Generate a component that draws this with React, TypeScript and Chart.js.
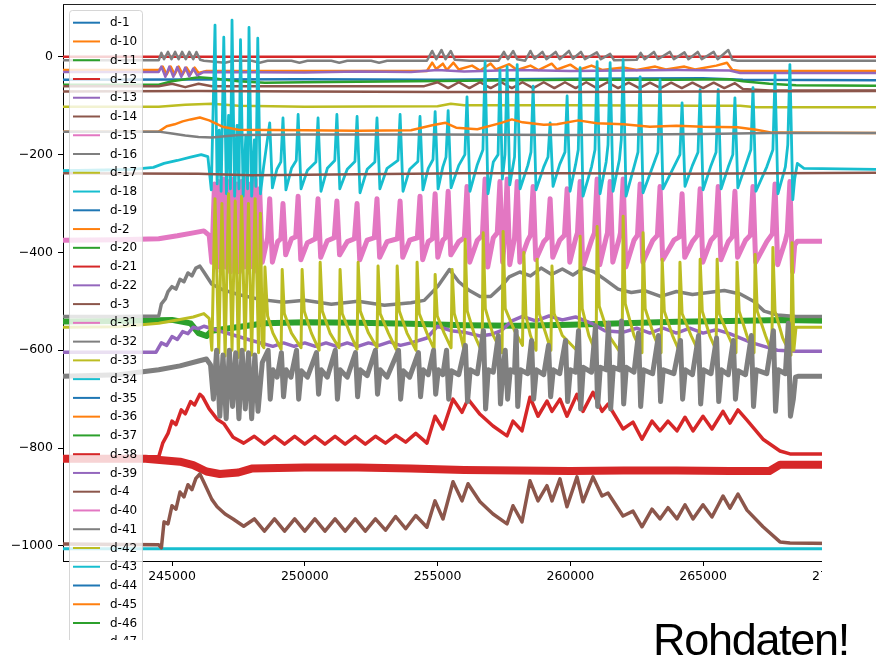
import { useEffect, useRef } from "react";
import { Chart, registerables } from "chart.js";

Chart.register(...registerables);

type P = [number, number];

const seriesNames = [
  "d-1", "d-10", "d-11", "d-12", "d-13", "d-14", "d-15", "d-16", "d-17", "d-18",
  "d-19", "d-2", "d-20", "d-21", "d-22", "d-3", "d-31", "d-32", "d-33", "d-34",
  "d-35", "d-36", "d-37", "d-38", "d-39", "d-4", "d-40", "d-41", "d-42", "d-43",
  "d-44", "d-45", "d-46", "d-47", "d-48", "d-49", "d-5", "d-50",
];

const palette = [
  "#1f77b4", "#ff7f0e", "#2ca02c", "#d62728", "#9467bd",
  "#8c564b", "#e377c2", "#7f7f7f", "#bcbd22", "#17becf",
];

const xTicks = [245000, 250000, 255000, 260000, 265000, 270000];
const yTicks = [-1000, -800, -600, -400, -200, 0];
const xMin = 240895;
const xMax = 271513;
const yMin = -1031;
const yMax = 108;

const d12: P[] = [[240895, 0], [271513, 0]];

const d16: P[] = [
  [240895, -7], [244500, -7], [244600, 8], [244700, -5], [244850, 10], [244980, -5], [245120, 10], [245250, -5],
  [245380, 10], [245520, -5], [245650, 10], [245800, -5], [245920, 10], [246060, -6], [246200, -8], [247000, -12],
  [247300, -8], [248000, -8], [248300, -12], [248600, -8], [249500, -8], [249800, -12], [250100, -8], [251000, -8],
  [251300, -12], [251600, -8], [252500, -8], [252800, -12], [253100, -8], [254600, -8], [254800, 12], [254950, -5],
  [255150, 14], [255300, -5], [255500, 12], [255650, -6], [256200, -8], [257300, -8], [257500, 10], [257650, -5],
  [257850, 12], [258000, -5], [258300, -8], [258500, 12], [258650, -4], [258950, 10], [259100, -5], [259450, 10],
  [259600, -5], [259950, 12], [260100, -4], [260400, 10], [260550, -5], [261000, 9], [261150, -5], [261500, 6],
  [261650, -7], [262500, -6], [262650, 8], [262800, -5], [263150, 10], [263300, -5], [263750, 10], [263900, -5],
  [264300, 9], [264450, -5], [264800, 10], [264950, -5], [265400, 10], [265550, -5], [265950, 14], [266100, -6],
  [266300, -8], [271513, -8],
];

const d10: P[] = [
  [240895, -27], [244500, -27], [244650, -20], [244800, -36], [244950, -20], [245100, -36], [245250, -20],
  [245400, -36], [245550, -22], [245700, -35], [245850, -22], [246000, -33], [246300, -29], [254600, -29],
  [254800, -12], [254950, -25], [255200, -14], [255350, -27], [255600, -12], [255800, -26], [256300, -18],
  [256600, -28], [257000, -14], [257200, -26], [257700, -15], [258000, -27], [258500, -18], [258800, -27],
  [259300, -14], [259500, -26], [260000, -16], [260300, -27], [260800, -18], [261200, -27], [262000, -22],
  [262500, -27], [263200, -20], [263600, -26], [264300, -20], [264700, -26], [265500, -18], [265900, -12],
  [266100, -27], [266400, -29], [271513, -29],
];

const d13: P[] = [
  [240895, -31], [244500, -31], [244600, -20], [244750, -41], [244900, -20], [245050, -41], [245200, -21],
  [245350, -41], [245500, -22], [245650, -40], [245800, -24], [245950, -38], [246200, -31], [250000, -32],
  [252000, -30], [254000, -31], [255000, -27], [256000, -30], [258000, -27], [260000, -29], [262000, -28],
  [264000, -27], [266000, -28], [266400, -33], [271513, -33],
];

const d1: P[] = [
  [240895, -47], [250000, -46], [255000, -47], [260000, -45], [265000, -44], [266500, -47], [271513, -48],
];

const d11: P[] = [
  [240895, -57], [244500, -57], [245000, -50], [245500, -46], [246000, -42], [246500, -44], [247500, -50],
  [248500, -53], [250000, -52], [252000, -51], [254000, -50], [256000, -49], [258000, -48], [260000, -47],
  [262000, -47], [264000, -47], [266000, -46], [266500, -50], [267500, -55], [268500, -58], [271513, -59],
];

const d14: P[] = [
  [240895, -60], [244500, -60], [245000, -55], [245500, -62], [246000, -55], [246500, -60], [248000, -60],
  [250000, -60], [252000, -60], [254500, -60], [255000, -52], [255400, -64], [255800, -52], [256200, -64],
  [256600, -52], [257000, -64], [257400, -52], [257800, -64], [258200, -52], [258600, -64], [259000, -52],
  [259400, -64], [259800, -52], [260200, -64], [260600, -52], [261000, -64], [261400, -52], [261800, -64],
  [262200, -53], [262600, -64], [263000, -53], [263400, -64], [263800, -53], [264200, -64], [264600, -53],
  [265000, -64], [265400, -53], [265800, -64], [266200, -54], [266500, -66], [267500, -69], [271513, -69],
];

const d49: P[] = [
  [240895, -71], [246000, -70], [250000, -71], [255000, -72], [260000, -72], [265000, -71], [271513, -70],
];

const d17: P[] = [
  [240895, -102], [244500, -102], [245500, -98], [246500, -96], [247500, -100], [250000, -102], [255000, -101],
  [255500, -96], [256000, -99], [260000, -99], [265000, -100], [266400, -100], [267000, -103], [271513, -103],
];

const d2: P[] = [
  [240895, -153], [244500, -153], [244800, -142], [245100, -138], [245400, -132], [245700, -128], [246050, -124],
  [246400, -130], [246900, -143], [247500, -149], [250000, -150], [252000, -151], [254000, -150], [254800, -140],
  [255300, -135], [255700, -145], [256500, -148], [257400, -135], [257800, -128], [258200, -134], [259000, -139],
  [259500, -138], [260300, -130], [261000, -136], [262000, -138], [263000, -143], [264000, -141], [265000, -143],
  [266300, -144], [267000, -149], [267600, -155], [271513, -156],
];

const d50: P[] = [
  [240895, -153], [244500, -153], [245000, -157], [245500, -161], [246000, -164], [246500, -165], [247500, -160],
  [250000, -159], [255000, -159], [260000, -160], [265000, -158], [267500, -156], [271513, -156],
];

const d3: P[] = [
  [240895, -238], [246000, -239], [248000, -242], [252000, -240], [256000, -238], [260000, -238], [264000, -239],
  [268000, -238], [271513, -237],
];

const d18: P[] = [
  [240895, -233], [242000, -232], [243500, -230], [244300, -226], [244700, -218], [245200, -212], [245700, -205],
  [246100, -200], [246350, -204], [246480, -272],
  [246620, 65], [246700, -260], [246780, -150], [246850, -275], [246950, 40], [247050, -280], [247130, -120],
  [247200, -270], [247260, 75], [247360, -285], [247450, -140], [247520, -270], [247580, 35], [247680, -285],
  [247780, -160], [247850, -270], [247900, 60], [248000, -285], [248100, -170], [248160, -265], [248230, 38],
  [248330, -280],
  [248450, -225], [248680, -135], [248780, -268], [248950, -230],
  [249100, -215], [249180, -125], [249290, -272], [249500, -228],
  [249680, -212], [249750, -118], [249860, -270], [250100, -232],
  [250420, -215], [250500, -125], [250610, -275], [250850, -228],
  [251130, -212], [251210, -118], [251320, -270], [251600, -230],
  [251890, -214], [251970, -122], [252080, -278], [252350, -230],
  [252640, -215], [252720, -125], [252830, -270], [253100, -228],
  [253510, -212], [253590, -118], [253700, -275], [253950, -230],
  [254260, -214], [254340, -122], [254450, -272], [254650, -228],
  [254830, -210], [254910, -112], [255020, -270], [255200, -225],
  [255320, -205], [255400, -110], [255510, -268], [255800, -222],
  [256030, -200], [256110, -82], [256220, -275], [256500, -220],
  [256710, -190], [256790, -10], [256900, -280], [257100, -215],
  [257280, -200], [257350, -27], [257440, -250], [257540, -200],
  [257620, -20], [257720, -262], [257900, -205],
  [258000, -16], [258110, -270], [258400, -222],
  [258520, -195], [258600, -60], [258710, -272], [259000, -225],
  [259160, -205], [259240, -135], [259350, -265], [259600, -220],
  [259800, -195], [259880, -80], [259990, -275], [260200, -220],
  [260300, -190], [260370, -22], [260480, -285], [260800, -225],
  [260930, -190], [261010, -10], [261120, -280], [261350, -215],
  [261420, -180], [261500, -12], [261610, -275], [261850, -210],
  [261920, -170], [261990, -6], [262100, -285], [262400, -225],
  [262550, -195], [262630, -41], [262740, -278], [263100, -225],
  [263300, -195], [263380, -47], [263490, -270], [263900, -225],
  [264130, -200], [264210, -94], [264320, -265], [264600, -222],
  [264810, -195], [264890, -67], [265000, -272], [265300, -222],
  [265490, -195], [265570, -67], [265680, -270], [265950, -225],
  [266120, -200], [266200, -84], [266310, -268], [266600, -222],
  [266800, -190], [266880, -63], [266990, -275], [267400, -225],
  [267630, -190], [267710, -37], [267820, -280], [268100, -225],
  [268190, -180], [268270, -16], [268380, -292], [268450, -250], [268550, -218], [268800, -228], [271513, -230],
];

const d15: P[] = [
  [240895, -375], [243000, -374], [244500, -372], [245200, -366], [245800, -360], [246200, -356], [246400, -365],
  [246500, -420],
  [246600, -260], [246680, -430], [246760, -255], [246850, -440], [246940, -250], [247030, -430], [247110, -255],
  [247200, -440], [247280, -250], [247370, -430], [247450, -260], [247540, -440], [247620, -255], [247710, -430],
  [247790, -250], [247880, -440], [247960, -260], [248050, -430], [248130, -250], [248220, -440], [248300, -270],
  [248400, -420],
  [248600, -370], [248680, -290], [248780, -420], [248980, -378],
  [249100, -372], [249180, -300], [249280, -405], [249500, -372],
  [249660, -368], [249750, -285], [249850, -415], [250100, -380],
  [250400, -372], [250500, -290], [250600, -410], [250850, -376],
  [251110, -370], [251210, -295], [251310, -405], [251600, -378],
  [251870, -372], [251970, -300], [252070, -415], [252350, -375],
  [252620, -370], [252720, -290], [252820, -410], [253100, -378],
  [253490, -372], [253590, -295], [253690, -410], [253950, -375],
  [254240, -370], [254340, -285], [254440, -415], [254650, -378],
  [254810, -372], [254910, -280], [255010, -410], [255200, -375],
  [255300, -370], [255400, -275], [255500, -405], [255800, -378],
  [256010, -370], [256110, -265], [256210, -420], [256500, -375],
  [256690, -365], [256790, -250], [256890, -430], [257100, -370],
  [257250, -360], [257350, -255], [257450, -420], [257540, -360],
  [257620, -250], [257720, -425], [257900, -370],
  [258000, -255], [258100, -420], [258400, -375],
  [258500, -365], [258600, -265], [258700, -415], [259000, -378],
  [259140, -370], [259240, -290], [259340, -410], [259600, -375],
  [259780, -365], [259880, -270], [259980, -420], [260200, -372],
  [260270, -360], [260370, -255], [260470, -430], [260800, -375],
  [260910, -360], [261010, -250], [261110, -425], [261350, -370],
  [261400, -360], [261500, -255], [261600, -420], [261850, -370],
  [261890, -360], [261990, -250], [262090, -430], [262400, -375],
  [262530, -365], [262630, -260], [262730, -420], [263100, -376],
  [263280, -365], [263380, -265], [263480, -415], [263900, -375],
  [264110, -368], [264210, -280], [264310, -410], [264600, -378],
  [264790, -365], [264890, -270], [264990, -420], [265300, -375],
  [265470, -365], [265570, -265], [265670, -415], [265950, -378],
  [266100, -368], [266200, -275], [266300, -410], [266600, -375],
  [266780, -365], [266880, -265], [266980, -420], [267400, -378],
  [267610, -362], [267710, -260], [267810, -425], [268100, -376],
  [268170, -360], [268270, -255], [268370, -440], [268450, -385], [268550, -377], [271513, -377],
];

const d33: P[] = [
  [240895, -553], [243000, -552], [244500, -545], [245200, -538], [245800, -532], [246200, -525], [246400, -535],
  [246500, -600],
  [246620, -290], [246760, -605], [246880, -300], [247000, -612], [247130, -280], [247260, -600], [247380, -295],
  [247500, -615], [247620, -285], [247750, -600], [247880, -300], [248000, -610], [248130, -290], [248260, -605],
  [248330, -320], [248400, -590],
  [248460, -595], [248500, -430], [248600, -530], [248800, -565],
  [249110, -598], [249150, -435], [249230, -525], [249500, -565],
  [249860, -595], [249900, -435], [249980, -520], [250250, -565],
  [250540, -600], [250580, -420], [250660, -520], [250950, -565],
  [251290, -595], [251330, -435], [251410, -525], [251700, -565],
  [251970, -598], [252010, -420], [252090, -520], [252400, -565],
  [252720, -595], [252760, -428], [252840, -525], [253150, -565],
  [253440, -598], [253480, -428], [253560, -520], [253850, -565],
  [254190, -600], [254230, -420], [254310, -525], [254600, -565],
  [254870, -598], [254910, -445], [254990, -530], [255250, -565],
  [255510, -595], [255550, -435], [255630, -525], [255850, -565],
  [256000, -600], [256040, -373], [256120, -520], [256400, -570],
  [256680, -605], [256720, -360], [256800, -515], [257100, -570],
  [257430, -605], [257470, -357], [257550, -515], [257900, -560],
  [258200, -590], [258250, -400], [258330, -530], [258500, -570],
  [258710, -600], [258750, -414], [258830, -525], [259100, -570],
  [259270, -600], [259310, -428], [259390, -525], [259700, -570],
  [260330, -605], [260370, -367], [260450, -515], [260700, -570],
  [260970, -605], [261010, -347], [261090, -510], [261450, -570],
  [261950, -610], [261990, -326], [262070, -505], [262400, -570],
  [262700, -605], [262740, -360], [262820, -515], [263150, -570],
  [263420, -605], [263460, -414], [263540, -520], [263850, -570],
  [264090, -600], [264130, -420], [264210, -525], [264550, -570],
  [264850, -605], [264890, -414], [264970, -520], [265250, -570],
  [265490, -600], [265530, -414], [265610, -525], [265950, -570],
  [266240, -605], [266280, -420], [266360, -520], [266650, -570],
  [266920, -605], [266960, -404], [267040, -520], [267350, -570],
  [267590, -605], [267630, -390], [267710, -520], [268000, -575],
  [268310, -610], [268350, -380], [268420, -600], [268500, -553], [271513, -553],
];

const d41: P[] = [
  [240895, -653], [243000, -650], [244500, -640], [245300, -632], [246000, -622], [246300, -618], [246450, -630],
  [246560, -700], [246680, -600], [246800, -735], [246920, -610], [247040, -740], [247160, -600], [247280, -715],
  [247400, -605], [247520, -740], [247640, -600], [247760, -720], [247880, -605], [248000, -740], [248120, -610],
  [248240, -725], [248400, -625],
  [248620, -600], [248700, -700], [248800, -640], [248960, -655],
  [249120, -605], [249200, -695], [249300, -640], [249480, -655],
  [249690, -600], [249770, -700], [249870, -642], [250100, -655],
  [250440, -605], [250520, -690], [250620, -640], [250850, -655],
  [251150, -600], [251230, -700], [251330, -640], [251600, -655],
  [251910, -605], [251990, -695], [252090, -640], [252350, -652],
  [252660, -600], [252740, -690], [252840, -640], [253100, -655],
  [253530, -600], [253610, -700], [253710, -642], [253950, -655],
  [254280, -605], [254360, -695], [254460, -640], [254650, -650],
  [254850, -600], [254930, -690], [255030, -640], [255200, -650],
  [255340, -600], [255420, -700], [255520, -642], [255800, -650],
  [256050, -590], [256130, -705], [256230, -640], [256500, -648],
  [256730, -560], [256810, -720], [256910, -640], [257100, -645],
  [257290, -570], [257370, -710], [257470, -635], [257550, -600],
  [257640, -700], [257740, -640], [257900, -645],
  [257960, -560], [258020, -715], [258120, -640], [258400, -648],
  [258540, -580], [258620, -700], [258720, -640], [259000, -650],
  [259180, -590], [259260, -695], [259360, -640], [259600, -648],
  [259820, -580], [259900, -705], [260000, -640], [260200, -645],
  [260310, -560], [260390, -720], [260490, -635], [260800, -645],
  [260950, -550], [261030, -715], [261130, -635], [261350, -640],
  [261440, -545], [261520, -720], [261620, -635], [261850, -640],
  [261930, -540], [262010, -710], [262110, -635], [262400, -645],
  [262570, -565], [262650, -715], [262750, -640], [263100, -648],
  [263320, -570], [263400, -705], [263500, -640], [263900, -648],
  [264150, -580], [264230, -700], [264330, -640], [264600, -650],
  [264830, -570], [264910, -710], [265010, -640], [265300, -648],
  [265510, -575], [265590, -705], [265690, -640], [265950, -650],
  [266140, -580], [266220, -700], [266320, -642], [266600, -650],
  [266820, -570], [266900, -715], [267000, -640], [267400, -648],
  [267650, -560], [267730, -725], [267830, -640], [268100, -648],
  [268210, -545], [268290, -735], [268400, -700], [268480, -655], [268600, -653], [271513, -653],
];

const d32: P[] = [
  [240895, -531], [243000, -531], [244500, -530], [244600, -505], [244750, -495], [244850, -480], [245000, -470],
  [245150, -475], [245300, -455], [245450, -460], [245600, -442], [245750, -448], [245900, -432], [246050, -428],
  [246200, -440], [246500, -465], [246900, -476], [247500, -486], [248300, -496], [249200, -502], [250000, -498],
  [251000, -506], [252000, -500], [253000, -508], [254000, -503], [254500, -498], [255000, -470], [255450, -435],
  [255800, -460], [256200, -478], [256600, -490], [257000, -490], [257400, -470], [257700, -450], [258100, -440],
  [258500, -448], [258900, -432], [259300, -445], [259700, -434], [260100, -446], [260500, -432], [260900, -440],
  [261300, -455], [261800, -475], [262300, -482], [262800, -478], [263400, -490], [264000, -480], [264600, -486],
  [265200, -482], [265800, -478], [266400, -485], [266900, -500], [267300, -520], [267800, -528], [268500, -531],
  [271513, -531],
];

const d20: P[] = [
  [240895, -541], [243000, -540], [245000, -538], [245700, -545], [246000, -565], [246300, -571], [246500, -560],
  [248500, -545], [250000, -543], [252000, -544], [254000, -546], [256000, -549], [258000, -550], [260000, -548],
  [262000, -545], [264000, -542], [266000, -540], [268000, -538], [271513, -541],
];

const d22: P[] = [
  [240895, -604], [244400, -604], [244600, -585], [244800, -590], [245000, -572], [245200, -578], [245400, -562],
  [245600, -566], [245800, -553], [246000, -556], [246200, -551], [248000, -580], [248800, -592], [249200, -585],
  [249600, -592], [250000, -585], [250400, -592], [250800, -585], [251200, -592], [251600, -585], [252000, -592],
  [252400, -585], [252800, -590], [253200, -583], [253600, -590], [254000, -585], [254600, -575], [255000, -551],
  [255500, -560], [256000, -563], [256600, -571], [257000, -568], [257400, -560], [257800, -540], [258200, -531],
  [258700, -540], [259200, -530], [259700, -538], [260200, -532], [260800, -545], [261300, -560], [262000, -563],
  [262500, -555], [263000, -565], [263500, -555], [264000, -565], [264500, -555], [265000, -565], [265500, -558],
  [266000, -566], [266800, -584], [267300, -592], [267800, -600], [268500, -602], [271513, -602],
];

const d21: P[] = [
  [240895, -818], [244500, -818], [244650, -790], [244850, -770], [245000, -745], [245150, -752], [245350, -722],
  [245500, -730], [245700, -705], [245850, -712], [246050, -690], [246150, -695], [246400, -720], [246700, -741],
  [246950, -750], [247300, -778], [247700, -790], [248100, -776], [248480, -792], [248860, -776], [249240, -792],
  [249620, -776], [250000, -792], [250380, -776], [250760, -792], [251140, -776], [251520, -792], [251900, -776],
  [252280, -792], [252660, -776], [253040, -790], [253420, -774], [253800, -788], [254180, -770], [254600, -790],
  [254905, -735], [255206, -761], [255583, -700], [255922, -727], [256148, -700], [256600, -731], [257090, -755],
  [257617, -775], [257842, -745], [258181, -765], [258482, -696], [258784, -735], [259122, -704], [259311, -725],
  [259612, -700], [259875, -735], [260252, -690], [260478, -725], [260855, -686], [261194, -725], [261420, -710],
  [261985, -761], [262361, -747], [262700, -782], [263077, -745], [263378, -765], [263679, -745], [264018, -765],
  [264320, -737], [264621, -765], [264997, -735], [265336, -761], [265750, -725], [266014, -749], [266315, -722],
  [266654, -743], [267257, -782], [267897, -806], [268274, -812], [271513, -812],
];

const d38: P[] = [
  [240895, -822], [244000, -822], [245300, -828], [245800, -835], [246300, -848], [246800, -853], [247500, -850],
  [248000, -842], [250000, -840], [252000, -840], [254000, -842], [256000, -845], [258000, -846], [260000, -847],
  [262000, -846], [264000, -846], [266000, -847], [267500, -847], [267900, -834], [271513, -834],
];

const d4: P[] = [
  [240895, -996], [244500, -998], [244600, -1004], [244700, -951], [244850, -955], [245000, -918], [245150, -925],
  [245300, -890], [245450, -900], [245600, -875], [245750, -885], [245900, -862], [246050, -853], [246200, -870],
  [246500, -905], [246700, -920], [247000, -935], [247300, -945], [247700, -960], [248100, -945], [248480, -970],
  [248860, -945], [249240, -970], [249620, -945], [250000, -970], [250380, -945], [250760, -970], [251140, -945],
  [251520, -970], [251900, -945], [252280, -970], [252660, -945], [253040, -968], [253420, -940], [253800, -965],
  [254180, -938], [254600, -962], [254905, -908], [255206, -945], [255583, -869], [255922, -908], [256148, -873],
  [256600, -910], [257090, -935], [257617, -955], [257842, -918], [258181, -951], [258482, -867], [258784, -908],
  [259122, -877], [259311, -908], [259612, -863], [259875, -920], [260252, -859], [260478, -910], [260855, -859],
  [261194, -898], [261420, -892], [261985, -939], [262361, -929], [262700, -961], [263077, -925], [263378, -945],
  [263679, -922], [264018, -945], [264320, -916], [264621, -945], [264997, -916], [265336, -941], [265750, -898],
  [266014, -923], [266315, -894], [266654, -927], [267257, -961], [267897, -992], [268274, -994], [271513, -996],
];

const d34: P[] = [[240895, -1006], [271513, -1006]];

const seriesData: Record<string, P[]> = {
  "d-1": d1, "d-10": d10, "d-11": d11, "d-12": d12, "d-13": d13, "d-14": d14, "d-15": d15,
  "d-16": d16, "d-17": d17, "d-18": d18, "d-2": d2, "d-20": d20, "d-21": d21, "d-22": d22,
  "d-3": d3, "d-32": d32, "d-33": d33, "d-34": d34, "d-38": d38, "d-4": d4, "d-41": d41,
  "d-49": d49, "d-50": d50,
};

const lineWidths: Record<string, number> = {
  "d-38": 8, "d-15": 5, "d-41": 5, "d-20": 6, "d-34": 3, "d-21": 3.5, "d-4": 3.5,
  "d-32": 3.5, "d-22": 3.5, "d-33": 3, "d-18": 2.8,
};

const legendPlugin = {
  id: "mplLegend",
  afterDraw(chart: any) {
    const ctx = chart.ctx as CanvasRenderingContext2D;
    ctx.save();
    const x0 = 69.5, y0 = 10.5, w = 73, h = 760, r = 3;
    ctx.beginPath();
    ctx.moveTo(x0 + r, y0);
    ctx.lineTo(x0 + w - r, y0);
    ctx.arcTo(x0 + w, y0, x0 + w, y0 + r, r);
    ctx.lineTo(x0 + w, y0 + h);
    ctx.lineTo(x0, y0 + h);
    ctx.lineTo(x0, y0 + r);
    ctx.arcTo(x0, y0, x0 + r, y0, r);
    ctx.closePath();
    ctx.globalAlpha = 0.8;
    ctx.fillStyle = "#ffffff";
    ctx.fill();
    ctx.strokeStyle = "#cccccc";
    ctx.lineWidth = 1;
    ctx.stroke();
    ctx.globalAlpha = 1;
    ctx.font = "12px 'DejaVu Sans'";
    ctx.textBaseline = "middle";
    ctx.textAlign = "left";
    seriesNames.forEach((n, i) => {
      const y = 22.7 + i * 18.76;
      ctx.strokeStyle = palette[i % 10];
      ctx.lineWidth = 2;
      ctx.beginPath();
      ctx.moveTo(73, y);
      ctx.lineTo(100, y);
      ctx.stroke();
      ctx.fillStyle = "#000000";
      ctx.fillText(n, 110, y + 0.5);
    });
    ctx.restore();
  },
};

export default function App() {
  const ref = useRef<HTMLCanvasElement | null>(null);

  useEffect(() => {
    if (!ref.current) return;
    const datasets = seriesNames.map((n, i) => ({
      label: n,
      data: (seriesData[n] || []).map(([x, y]) => ({ x, y })),
      borderColor: palette[i % 10],
      backgroundColor: palette[i % 10],
      borderWidth: lineWidths[n] || 2.5,
      borderJoinStyle: "round",
      pointRadius: 0,
      tension: 0,
      fill: false,
      order: -i,
    }));
    const tickFont = { family: "'DejaVu Sans'", size: 12.5 };
    const chart = new Chart(ref.current, {
      type: "line",
      data: { datasets },
      plugins: [legendPlugin],
      options: {
        animation: false,
        responsive: false,
        devicePixelRatio: 1,
        layout: { padding: { top: 4, left: 0, right: 0, bottom: 0 } },
        plugins: { legend: { display: false }, tooltip: { enabled: false } },
        scales: {
          x: {
            type: "linear",
            min: xMin,
            max: xMax,
            afterFit: (s: any) => {
              s.height = 79;
              s.paddingLeft = 0;
              s.paddingRight = 0;
            },
            afterBuildTicks: (s: any) => { s.ticks = xTicks.map((v) => ({ value: v })); },
            ticks: {
              callback: (v: any) => String(v),
              font: tickFont,
              color: "#000",
              padding: 3,
              maxRotation: 0,
              autoSkip: false,
            },
            grid: { display: true, drawOnChartArea: false, drawTicks: true, tickLength: 5, color: "#000", lineWidth: 1 },
            border: { display: true, color: "#000", width: 1 },
          },
          y: {
            type: "linear",
            min: yMin,
            max: yMax,
            afterFit: (s: any) => {
              s.width = 63;
              s.paddingTop = 0;
              s.paddingBottom = 0;
            },
            afterBuildTicks: (s: any) => { s.ticks = yTicks.map((v) => ({ value: v })); },
            ticks: {
              callback: (v: any) => (v === 0 ? "0" : (v < 0 ? "\u2212" : "") + Math.abs(v)),
              font: tickFont,
              color: "#000",
              padding: 5,
              autoSkip: false,
            },
            grid: { display: true, drawOnChartArea: false, drawTicks: true, tickLength: 5, color: "#000", lineWidth: 1 },
            border: { display: true, color: "#000", width: 1 },
          },
        },
      } as any,
    });
    return () => chart.destroy();
  }, []);

  return (
    <div style={{ position: "absolute", left: 0, top: 0, width: 876, height: 657, overflow: "hidden", background: "#fff" }}>
      <div style={{ position: "absolute", left: 0, top: 0, width: 876, height: 640, overflow: "hidden" }}>
        <canvas ref={ref} width={876} height={640} style={{ display: "block" }} />
      </div>
      <div style={{ position: "absolute", left: 63, top: 4, width: 813, height: 1, background: "#222" }} />
      <div style={{ position: "absolute", left: 822, top: 200, width: 54, height: 457, background: "#fff" }} />
      <div
        style={{
          position: "absolute",
          left: 653,
          top: 617,
          fontFamily: "'Liberation Sans', Arial, sans-serif",
          fontSize: 45,
          letterSpacing: "-1.3px",
          lineHeight: 1,
          color: "#000",
          whiteSpace: "nowrap",
        }}
      >
        Rohdaten!
      </div>
    </div>
  );
}
